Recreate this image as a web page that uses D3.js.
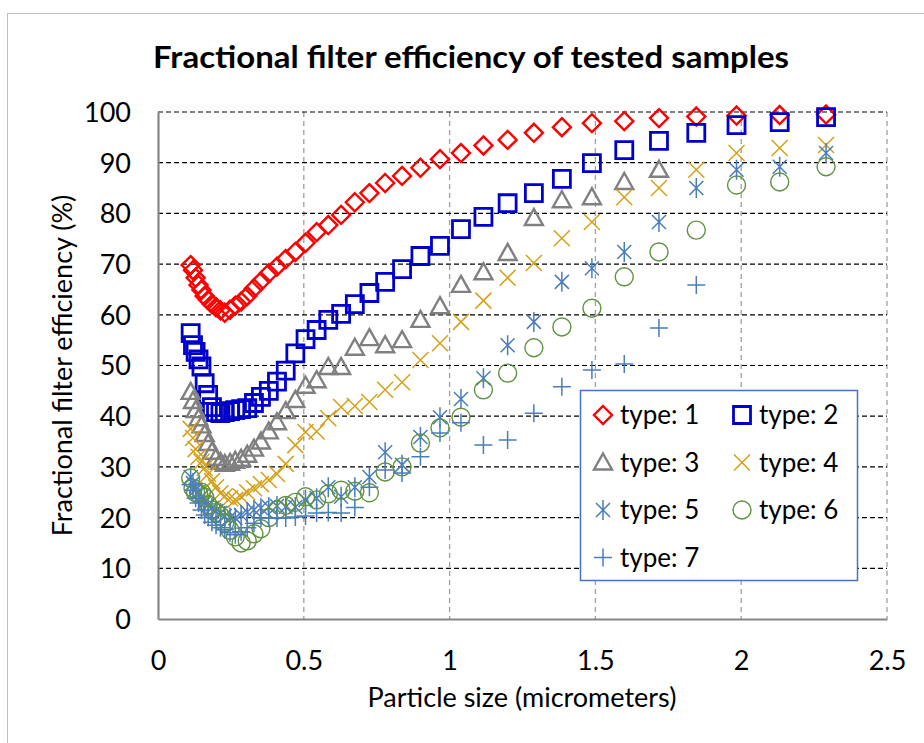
<!DOCTYPE html>
<html>
<head>
<meta charset="utf-8">
<script src="https://cdn.jsdelivr.net/npm/d3@7"></script>
<style>
  body { margin: 0; background: #fff; }
  svg { display: block; }
  text { font-family: Lato, "Open Sans", sans-serif; fill: #000; }
</style>
</head>
<body>
<div id="chart"></div>
<script>
// particle size bins (micrometers)
const sizes = [0.112, 0.120, 0.129, 0.139, 0.149, 0.160, 0.172, 0.185, 0.199, 0.214,
  0.229, 0.247, 0.265, 0.285, 0.306, 0.329, 0.353, 0.380, 0.408, 0.438,
  0.471, 0.506, 0.544, 0.584, 0.628, 0.675, 0.725, 0.779, 0.837, 0.900,
  0.967, 1.039, 1.116, 1.199, 1.289, 1.385, 1.488, 1.599, 1.718, 1.846,
  1.984, 2.132, 2.291];

// efficiency (%) per type, same order as sizes
const type1 = [69.8, 68.8, 67.3, 65.9, 64.9, 63.7, 62.9, 62.1, 61.5, 60.9,
  60.4, 61.0, 61.8, 62.6, 63.7, 65.2, 66.6, 68.2, 69.5, 71.0,
  72.4, 74.2, 76.3, 77.7, 79.7, 82.2, 84.0, 86.0, 87.4, 89.0,
  90.7, 91.9, 93.4, 94.5, 95.9, 97.0, 97.8, 98.2, 98.8, 99.1,
  99.3, 99.4, 99.5];
const type2 = [56.4, 54.0, 52.7, 51.2, 49.8, 46.5, 44.2, 41.8, 40.8, 40.6,
  40.8, 41.0, 41.2, 41.4, 41.6, 42.6, 43.8, 45.0, 46.8, 49.0,
  52.4, 55.2, 57.0, 59.0, 60.2, 62.1, 64.3, 66.5, 69.0, 71.6,
  73.6, 76.9, 79.3, 82.0, 84.0, 86.8, 89.9, 92.5, 94.3, 95.9,
  97.4, 98.0, 99.0];
const type3 = [44.8, 43.0, 41.2, 39.6, 38.2, 36.5, 34.7, 33.0, 31.8, 31.0,
  30.6, 30.8, 31.2, 31.6, 32.4, 33.6, 35.0, 37.0, 38.8, 41.0,
  43.2, 46.0, 47.1, 49.7, 49.7, 53.5, 55.4, 54.0, 55.0, 59.0,
  61.7, 65.9, 68.4, 72.2, 79.1, 82.6, 83.2, 86.2, 88.6];
const type4 = [37.5, 35.7, 33.5, 32.0, 31.0, 29.8, 28.6, 27.2, 26.0, 24.8,
  24.2, 23.8, 23.5, 24.1, 25.0, 25.8, 26.6, 27.4, 28.6, 30.6,
  34.3, 36.9, 37.0, 39.6, 41.8, 42.0, 42.8, 45.2, 46.7, 51.1,
  54.4, 58.6, 62.8, 67.3, 70.2, 75.1, 78.3, 83.2, 85.0, 88.6,
  91.9, 92.9, 93.5];
const type5 = [28.0, 26.8, 25.5, 25.0, 24.1, 23.0, 22.5, 21.9, 21.3, 20.9,
  20.3, 20.0, 19.9, 20.5, 21.1, 21.5, 21.9, 22.1, 22.3, 22.1,
  22.1, 23.5, 23.8, 26.0, 24.1, 26.0, 28.0, 32.9, 30.4, 35.9,
  39.8, 43.4, 47.5, 54.0, 58.6, 66.5, 69.2, 72.4, 78.3, 85.0,
  88.6, 89.2, 91.9];
const type6 = [27.8, 25.8, 24.9, 24.8, 25.0, 24.0, 22.5, 21.5, 21.0, 20.3,
  19.0, 17.5, 16.2, 15.0, 15.4, 16.8, 17.8, 20.0, 21.5, 22.4,
  23.0, 24.1, 23.5, 24.7, 25.4, 25.2, 24.9, 29.0, 30.0, 34.7,
  37.7, 39.8, 45.2, 48.5, 53.5, 57.6, 61.3, 67.5, 72.4, 76.7,
  85.6, 86.2, 89.2];
const type7 = [26.5, 25.4, 23.8, 22.9, 21.5, 20.5, 20.0, 19.1, 18.5, 18.0,
  17.6, 17.0, 16.6, 17.2, 18.0, 18.9, 19.9, 19.9, 19.9, 19.9,
  20.1, 20.3, 20.9, 21.0, 20.9, 22.0, 26.0, 29.4, 28.8, 32.0,
  36.7, 38.7, 34.3, 35.3, 40.6, 45.8, 49.1, 50.3, 57.4, 65.9];

const seriesNames = ['type: 1', 'type: 2', 'type: 3', 'type: 4', 'type: 5', 'type: 6', 'type: 7'];
const xTicks = [0, 0.5, 1, 1.5, 2, 2.5];
const yTicks = [0, 10, 20, 30, 40, 50, 60, 70, 80, 90, 100];

// marker styles per series
const markers = [
  { shape: 'diamond', color: '#ff0000', width: 2.4 },
  { shape: 'square', color: '#0000cc', width: 2.8 },
  { shape: 'triangle', color: '#808080', width: 2.4 },
  { shape: 'cross', color: '#d4a017', width: 1.5 },
  { shape: 'star', color: '#4a7ebb', width: 1.5 },
  { shape: 'circle', color: '#5e9340', width: 1.4 },
  { shape: 'plus', color: '#4a7ebb', width: 1.5 }
];

const shapePaths = {
  diamond: 'M0,-9L9,0L0,9L-9,0Z',
  square: 'M-8.5,-8.5H8.5V8.5H-8.5Z',
  triangle: 'M0,-9L9,7L-9,7Z',
  cross: 'M-8,-8L8,8M-8,8L8,-8',
  star: 'M-7,-7L7,7M-7,7L7,-7M0,-10V10',
  plus: 'M-9,0H9M0,-9V9'
};

const W = 924, H = 743;
const margin = { top: 112, right: 37, bottom: 124, left: 158 };
const plotW = W - margin.left - margin.right;
const plotH = H - margin.top - margin.bottom;
const tickSize = 27;
const titleSize = 27;
const legendSize = 26;

const svg = d3.select('#chart').append('svg')
  .attr('width', W)
  .attr('height', H);

// chart area border
svg.append('rect')
  .attr('x', 7.5).attr('y', 13.5)
  .attr('width', 930).attr('height', 760)
  .attr('fill', 'none')
  .attr('stroke', '#bfbfbf');

const x = d3.scaleLinear().domain([0, 2.5]).range([margin.left, margin.left + plotW]);
const y = d3.scaleLinear().domain([0, 100]).range([margin.top + plotH, margin.top]);

// title
svg.append('text')
  .attr('x', 471).attr('y', 68)
  .attr('text-anchor', 'middle')
  .attr('font-size', 30)
  .attr('font-weight', 'bold')
  .attr('textLength', 636)
  .attr('lengthAdjust', 'spacingAndGlyphs')
  .text('Fractional filter efficiency of tested samples');

// vertical grid (grey dashed)
svg.append('g').selectAll('line')
  .data(xTicks.slice(1))
  .join('line')
  .attr('x1', d => x(d)).attr('x2', d => x(d))
  .attr('y1', y(100)).attr('y2', y(0))
  .attr('stroke', '#a0a0a0')
  .attr('stroke-width', 1.3)
  .attr('stroke-dasharray', '5,4');

// horizontal grid (black dashed)
svg.append('g').selectAll('line')
  .data(yTicks.slice(1))
  .join('line')
  .attr('x1', x(0)).attr('x2', x(2.5))
  .attr('y1', d => y(d)).attr('y2', d => y(d))
  .attr('stroke', '#000')
  .attr('stroke-width', 1.2)
  .attr('stroke-dasharray', '5,3');

// axes
const xAxis = svg.append('g')
  .attr('transform', `translate(0,${y(0)})`)
  .call(d3.axisBottom(x).tickValues(xTicks).tickSize(0).tickPadding(30).tickFormat(d3.format('')));
const yAxis = svg.append('g')
  .attr('transform', `translate(${x(0)},0)`)
  .call(d3.axisLeft(y).tickValues(yTicks).tickSize(0).tickPadding(27));

[xAxis, yAxis].forEach(ax => {
  ax.select('.domain').attr('stroke', '#868686').attr('stroke-width', 2.2);
  ax.selectAll('text').attr('font-size', tickSize).attr('font-family', 'Lato, "Open Sans", sans-serif');
});
yAxis.selectAll('text').attr('dy', '0.35em');
xAxis.selectAll('text').attr('y', 0).attr('dy', 0).attr('transform', 'translate(0,51)');

// axis titles
svg.append('text')
  .attr('x', 522).attr('y', 707)
  .attr('text-anchor', 'middle')
  .attr('font-size', titleSize)
  .text('Particle size (micrometers)');

svg.append('text')
  .attr('transform', `translate(72,${y(50)}) rotate(-90)`)
  .attr('text-anchor', 'middle')
  .attr('font-size', titleSize)
  .text('Fractional filter efficiency (%)');

// draw one marker
function drawMarker(g, m, cx, cy) {
  if (m.shape === 'circle') {
    g.append('circle')
      .attr('cx', cx).attr('cy', cy).attr('r', 9)
      .attr('fill', 'none')
      .attr('stroke', m.color)
      .attr('stroke-width', m.width);
  } else {
    g.append('path')
      .attr('d', shapePaths[m.shape])
      .attr('transform', `translate(${cx},${cy})`)
      .attr('fill', 'none')
      .attr('stroke', m.color)
      .attr('stroke-width', m.width);
  }
}

// series
const allSeries = [type1, type2, type3, type4, type5, type6, type7];
allSeries.forEach((vals, i) => {
  const g = svg.append('g').attr('class', 'series-' + (i + 1));
  vals.forEach((v, j) => drawMarker(g, markers[i], x(sizes[j]), y(v)));
});

// legend
const legend = svg.append('g');
legend.append('rect')
  .attr('x', 580.5).attr('y', 390.5)
  .attr('width', 277).attr('height', 190)
  .attr('fill', '#fff')
  .attr('stroke', '#4472c4')
  .attr('stroke-width', 1.5);

seriesNames.forEach((name, i) => {
  const col = i % 2, row = Math.floor(i / 2);
  const mx = 603 + col * 139;
  const my = 415 + row * 47.5;
  drawMarker(legend, markers[i], mx, my);
  legend.append('text')
    .attr('x', mx + 17).attr('y', my)
    .attr('dy', '0.35em')
    .attr('font-size', legendSize)
    .text(name);
});
</script>
</body>
</html>
